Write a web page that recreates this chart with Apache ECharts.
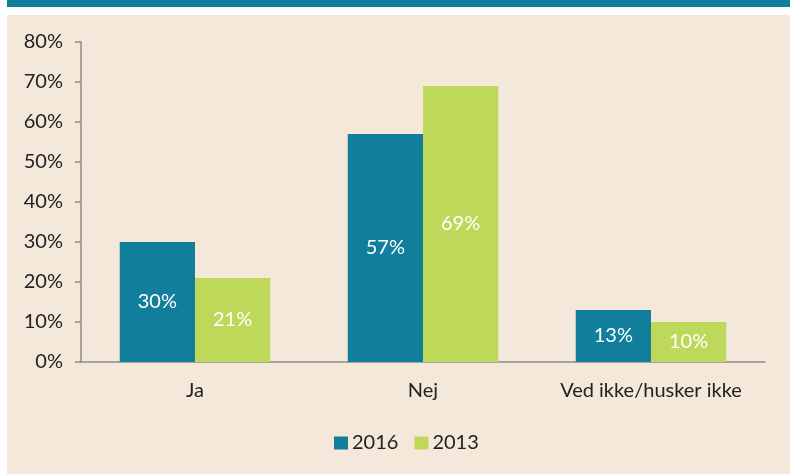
<!DOCTYPE html>
<html>
<head>
<meta charset="utf-8">
<script src="https://cdn.jsdelivr.net/npm/echarts@6/dist/echarts.min.js"></script>
<style>
  html, body { margin: 0; padding: 0; background: #ffffff; }
  #band { position: absolute; left: 7px; top: 0; width: 783px; height: 7px; background: #117f9b; }
  #chart { position: absolute; left: 7px; top: 15px; width: 783px; height: 459px; }
</style>
</head>
<body>
<div id="band"></div>
<div id="chart"></div>
<script>
// chart data
const categories = ['Ja', 'Nej', 'Ved ikke/husker ikke'];
const values2016 = [30, 57, 13];
const values2013 = [21, 69, 10];
const yTicks = [0, 10, 20, 30, 40, 50, 60, 70, 80];

const teal = '#117f9b';
const green = '#bed85a';
const font = 'Lato, "Open Sans", sans-serif';

const chart = echarts.init(document.getElementById('chart'));

const barLabel = {
  show: true,
  position: 'inside',
  color: '#ffffff',
  fontSize: 20,
  fontFamily: font,
  formatter: p => p.value + '%'
};

chart.setOption({
  backgroundColor: '#f4e8db',
  animation: false,
  textStyle: { fontFamily: font },
  grid: { left: 74, top: 27, width: 684, height: 320 },
  legend: {
    left: 322,
    top: 413,
    itemWidth: 14,
    itemHeight: 13,
    itemGap: 16,
    icon: 'rect',
    textStyle: { fontSize: 20, color: '#222', fontFamily: font, padding: [0, 0, 0, -1] },
    data: ['2016', '2013']
  },
  xAxis: {
    type: 'category',
    data: categories,
    axisLine: { lineStyle: { color: '#8c8c8c', width: 1.5 } },
    axisTick: { length: 6, lineStyle: { color: '#8c8c8c', width: 1.5 } },
    axisLabel: { color: '#222', fontSize: 20, fontFamily: font, margin: 19, interval: 0 }
  },
  yAxis: {
    type: 'value',
    min: yTicks[0],
    max: yTicks[yTicks.length - 1],
    interval: 10,
    axisLine: { show: true, lineStyle: { color: '#8c8c8c', width: 1.5 } },
    axisTick: { show: true, length: 6, lineStyle: { color: '#8c8c8c', width: 1.5 } },
    splitLine: { show: false },
    axisLabel: { color: '#222', fontSize: 20, fontFamily: font, margin: 18, formatter: '{value}%' }
  },
  series: [{
    name: '2016',
    type: 'bar',
    data: values2016,
    itemStyle: { color: teal },
    barGap: '0%',
    barCategoryGap: '34%',
    label: barLabel
  }, {
    name: '2013',
    type: 'bar',
    data: values2013,
    itemStyle: { color: green },
    label: barLabel
  }]
});
</script>
</body>
</html>
